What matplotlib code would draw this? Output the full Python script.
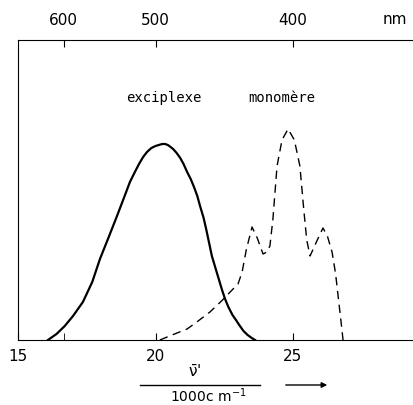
import matplotlib
matplotlib.use('Agg')
import matplotlib.pyplot as plt

plt.rcParams['font.family'] = ['DejaVu Sans']

# wavenumber (1000 cm-1) and relative intensity
exci_nu = [16.09, 16.4, 16.7, 17.0, 17.36, 17.7, 17.98, 18.3, 18.60, 18.85, 19.07, 19.25, 19.4,
           19.55, 19.69, 19.85, 20.0, 20.12, 20.24, 20.35, 20.45, 20.55, 20.64, 20.77, 20.9,
           21.02, 21.15, 21.28, 21.4, 21.52, 21.62, 21.75, 21.85, 21.95, 22.05, 22.18, 22.3,
           22.42, 22.53, 22.65, 22.8, 22.95, 23.07, 23.2, 23.35, 23.5, 23.62]
exci_h = [0, 6, 14, 24, 38, 58, 81, 103, 124, 142, 158, 168, 176,
          183, 188, 192, 194, 195, 196, 196, 195, 193, 191, 187, 182,
          176, 168, 161, 153, 144, 134, 122, 110, 97, 84, 72, 61,
          50, 41, 33, 25, 19, 14, 9, 5, 2, 0]

mono_nu = [20.16, 20.6, 21.15, 21.55, 21.98, 22.4, 22.82, 23.0, 23.15, 23.3, 23.51, 23.7, 23.91,
           24.05, 24.16, 24.27, 24.42, 24.6, 24.82, 25.05, 25.25, 25.40, 25.5, 25.62, 25.85,
           26.09, 26.25, 26.42, 26.55, 26.64, 26.74, 26.82]
mono_h = [0, 5, 11, 19, 28, 39, 51, 56, 68, 90, 113, 102, 86,
          88, 94, 121, 174, 200, 211, 200, 174, 128, 100, 84, 98,
          112, 104, 88, 66, 44, 20, 0]

nm_ticks = [600, 500, 400]
nu_ticks = [15, 20, 25]

fig = plt.figure(figsize=(4.13, 4.06), dpi=100)
ax = fig.add_axes([18/413, 65/406, 395/413, 300/406])

ax.plot(exci_nu, exci_h, color='black', lw=1.6, solid_joinstyle='round')
ax.plot(mono_nu, mono_h, color='black', lw=1.0, dashes=(6, 4))

ax.set_xlim(15, 15 + 395/27.5)
ax.set_ylim(0, 300)
ax.spines['right'].set_visible(False)
ax.set_yticks([])
ax.set_xticks(nu_ticks)
ax.set_xticks([1e4/600], minor=True)
ax.tick_params(axis='x', which='both', direction='in', length=5, labelsize=11, pad=6)

top = ax.secondary_xaxis('top', functions=(lambda v: 1e4/v, lambda v: 1e4/v))
top.set_xticks(nm_ticks)
top.tick_params(direction='in', length=5, labelsize=11, pad=9)
top.spines['top'].set_visible(False)

ax.text(28.27, (341 - 20) / 300, 'nm', transform=ax.get_xaxis_transform(), fontsize=11,
        va='center', ha='left')

ax.text(20.3, 243, 'exciplexe', fontsize=10, ha='center', va='center', family='DejaVu Sans Mono')
ax.text(24.6, 243, 'monomère', fontsize=10, ha='center', va='center', family='DejaVu Sans Mono')

# axis label with fraction line and arrow
fig.text(195/413, 1 - 372/406, r"$\bar{\mathrm{\nu}}$'", fontsize=11, ha='center', va='center')
fig.text(208/413, 1 - 396/406, r'1000c m$^{-1}$', fontsize=10, ha='center', va='center')
fig.add_artist(plt.Line2D([140/413, 260/413], [1 - 386/406, 1 - 386/406], color='black', lw=1))
fig.add_artist(matplotlib.patches.FancyArrowPatch((283/413, 1 - 386/406), (330/413, 1 - 386/406),
                                                  transform=fig.transFigure, arrowstyle='-|>',
                                                  mutation_scale=8, color='black', lw=1))

plt.savefig('out.png', dpi=100)
